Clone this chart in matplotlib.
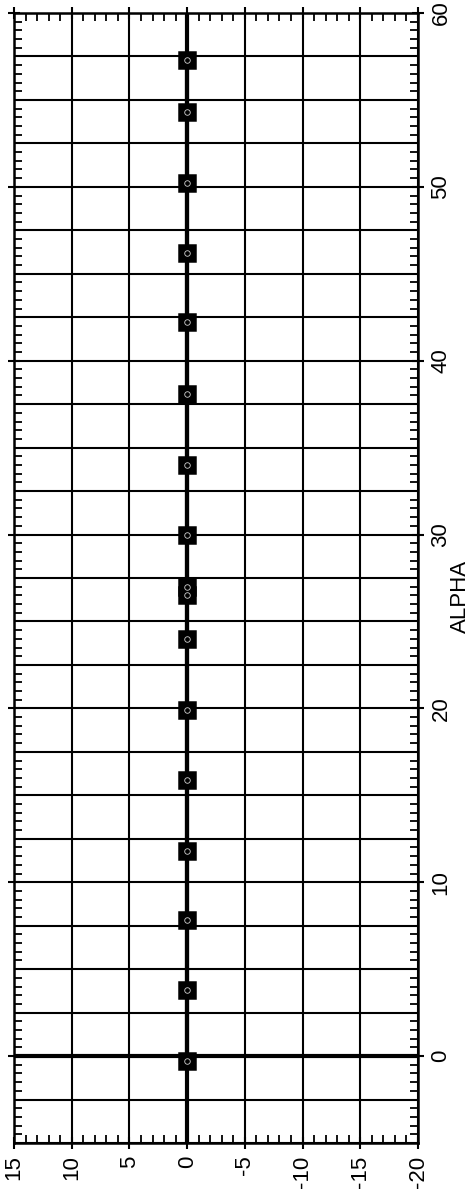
import matplotlib.pyplot as plt
import numpy as np

# chart is drawn turned on its side: ALPHA runs up the page, value runs across
alpha = [-0.3, 3.8, 7.8, 11.8, 15.9, 19.9, 24.0, 26.5, 27.0, 30.0, 34.0,
         38.1, 42.2, 46.2, 50.2, 54.3, 57.3]
value = [0.0] * len(alpha)

alpha_ticks = [0, 10, 20, 30, 40, 50, 60]
value_ticks = [15, 10, 5, 0, -5, -10, -15, -20]

plt.rcParams['font.family'] = ['Liberation Sans', 'DejaVu Sans']
plt.rcParams['axes.unicode_minus'] = False

fig = plt.figure(figsize=(4.70, 11.97), dpi=100)
ax = fig.add_axes([14 / 470, 1 - 1143 / 1197, 404 / 470, 1130 / 1197])

ax.set_xlim(15, -20)
ax.set_ylim(-5, 60)

# grid: every 5 across, every 2.5 along ALPHA
for v in np.arange(-20, 16, 5):
    ax.axvline(v, color='black', lw=1.5, zorder=1)
for a in np.arange(-5, 61, 2.5):
    ax.axhline(a, color='black', lw=1.5, zorder=1)
ax.axvline(0, color='black', lw=3.0, zorder=2)
ax.axhline(0, color='black', lw=3.0, zorder=2)

ax.plot(value, alpha, color='black', lw=3.0, marker='s', ms=11.5,
        mfc='black', mec='black', mew=1.8, zorder=3)
ax.plot(value, alpha, ls='none', marker='o', ms=4, mfc='none',
        mec='#d0d0d0', mew=0.6, zorder=4)

ax.set_xticks(value_ticks)
ax.set_xticklabels([str(v) for v in value_ticks], rotation=90)
ax.set_xticks(np.arange(-20, 16, 1), minor=True)
ax.set_yticks(alpha_ticks)
ax.set_yticks(np.arange(-5, 60.1, 0.5), minor=True)
ax.yaxis.tick_right()
for lab in ax.get_yticklabels():
    lab.set_rotation(90)
    lab.set_verticalalignment('center')

ax.tick_params(which='both', top=True, bottom=True, left=True, right=True,
               labelsize=16, color='black')
ax.tick_params(which='major', direction='inout', length=8, width=1.5, pad=5)
ax.tick_params(which='minor', direction='in', length=6, width=1.3)

for s in ax.spines.values():
    s.set_linewidth(1.8)

ax.yaxis.set_label_position('right')
ax.set_ylabel('ALPHA', fontsize=16, rotation=90)
ax.yaxis.set_label_coords(1.079, 0.484)

fig.savefig('out.png', dpi=100)
